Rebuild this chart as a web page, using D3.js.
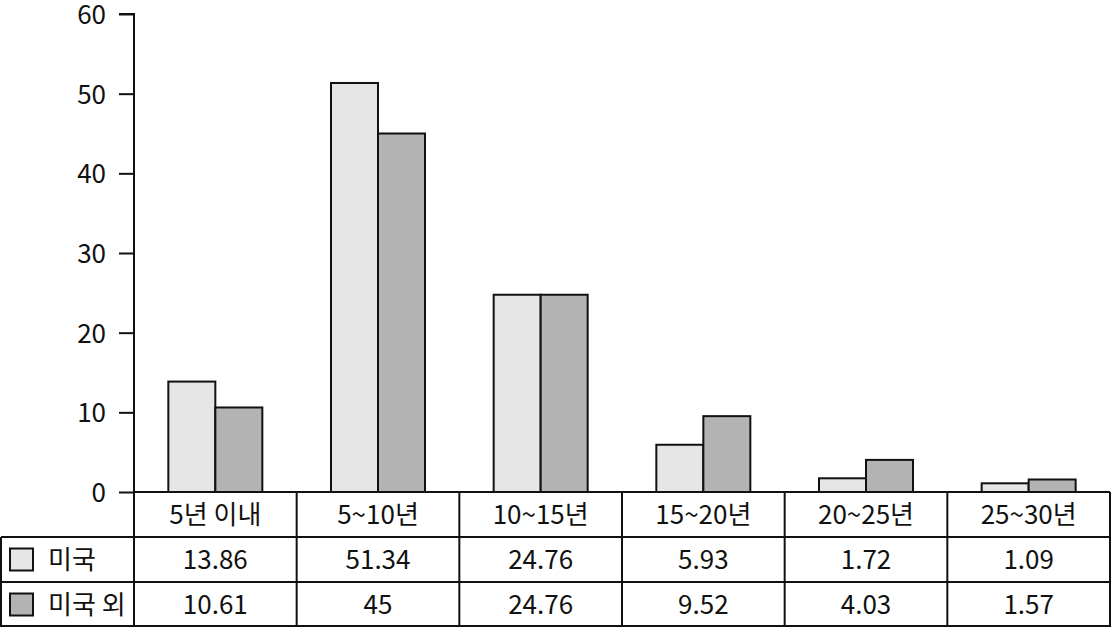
<!DOCTYPE html>
<html><head><meta charset="utf-8">
<script src="https://cdn.jsdelivr.net/npm/d3@7"></script>
<style>body{margin:0;background:#fff}svg{display:block}text{font-family:"Noto Sans CJK KR","Noto Sans",sans-serif;fill:#111}</style>
</head><body>
<script>
const categories = ["5년 이내","5~10년","10~15년","15~20년","20~25년","25~30년"];
const seriesNames = ["미국","미국 외"];
const usValues = [13.86, 51.34, 24.76, 5.93, 1.72, 1.09];
const nonUsValues = [10.61, 45, 24.76, 9.52, 4.03, 1.57];
const usLabels = ["13.86","51.34","24.76","5.93","1.72","1.09"];
const nonUsLabels = ["10.61","45","24.76","9.52","4.03","1.57"];
const yTicks = [0,10,20,30,40,50,60];
const colors = ["#e6e6e6","#b3b3b3"];

(function(){
const W=1113,H=630;
const pL=134,pR=1110,pT=14,base=492;
const rowH=45;
const svg=d3.select("body").append("svg").attr("width",W).attr("height",H);
const x0=d3.scaleBand().domain(categories).range([pL,pR]).padding(0);
const y=d3.scaleLinear().domain([0,60]).range([base,pT]);
const bw=47;
const x1=d3.scaleBand().domain(seriesNames).range([0,bw*2]);

const series=[usValues,nonUsValues];
const g=svg.append("g");
series.forEach((vals,si)=>{
  g.selectAll(null).data(vals).enter().append("rect")
    .attr("x",(d,i)=>x0(categories[i])+x0.bandwidth()/2-bw+x1(seriesNames[si]))
    .attr("y",d=>y(d)).attr("width",bw).attr("height",d=>base-y(d))
    .attr("fill",colors[si]).attr("stroke","#111").attr("stroke-width",2);
});

const fs="26px";
const ax=svg.append("g").attr("transform",`translate(${pL},0)`)
  .call(d3.axisLeft(y).tickValues(yTicks).tickSize(15).tickPadding(13));
ax.select(".domain").attr("stroke","#111").attr("stroke-width",2).attr("d",`M-15,${pT}H0V${base}`);
ax.selectAll(".tick line").attr("stroke","#111").attr("stroke-width",2);
ax.selectAll(".tick text").style("font-size",fs).attr("font-family",null).attr("fill","#111").attr("dy","0.36em");

svg.append("line").attr("x1",pL).attr("x2",pR).attr("y1",base).attr("y2",base).attr("stroke","#111").attr("stroke-width",2);

const tl=svg.append("g").attr("stroke","#111").attr("stroke-width",2).attr("fill","none");
tl.append("path").attr("d",`M${pL},${base}V${base+rowH*3}M${pR},${base}V${base+rowH*3}M1,${base+rowH}H${pR}M1,${base+rowH*2}H${pR}M1,${base+rowH*3-1}H${pR}M1,${base+rowH}V${base+rowH*3}`);
categories.slice(1).forEach(c=>tl.append("line").attr("x1",x0(c)).attr("x2",x0(c)).attr("y1",base).attr("y2",base+rowH*3));

svg.selectAll(null).data(categories).enter().append("text")
  .attr("x",d=>x0(d)+x0.bandwidth()/2).attr("y",base+rowH/2).attr("dy","0.36em")
  .attr("text-anchor","middle").style("font-size",fs).text(d=>d);
[usLabels,nonUsLabels].forEach((labs,si)=>{
  svg.selectAll(null).data(labs).enter().append("text")
    .attr("x",(d,i)=>x0(categories[i])+x0.bandwidth()/2).attr("y",base+rowH*(si+1)+rowH/2).attr("dy","0.36em")
    .attr("text-anchor","middle").style("font-size",fs).text(d=>d);
  const cy=base+rowH*(si+1)+rowH/2;
  svg.append("rect").attr("x",10).attr("y",cy-11).attr("width",23).attr("height",22)
    .attr("fill",colors[si]).attr("stroke","#111").attr("stroke-width",2);
  svg.append("text").attr("x",48).attr("y",cy).attr("dy","0.36em").style("font-size",fs).text(seriesNames[si]);
});
})();
</script>
</body></html>
